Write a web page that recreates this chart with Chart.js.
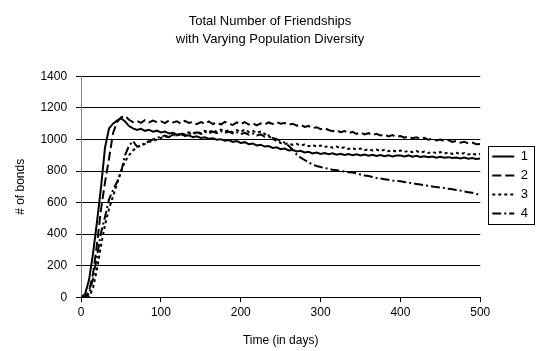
<!DOCTYPE html>
<html>
<head>
<meta charset="utf-8">
<script src="https://cdn.jsdelivr.net/npm/chart.js@4.4.1/dist/chart.umd.min.js"></script>
<style>
  html, body { margin: 0; padding: 0; background: #fff; }
  #wrap { width: 536px; height: 351px; }
</style>
</head>
<body>
<div id="wrap"><canvas id="myChart" width="536" height="351"></canvas></div>
<script>
// time axis (days), sampled every 5 days
const days = [
  0, 5, 10, 15, 20, 25, 30, 35, 40, 45,
  50, 55, 60, 65, 70, 75, 80, 85, 90, 95,
  100, 105, 110, 115, 120, 125, 130, 135, 140, 145,
  150, 155, 160, 165, 170, 175, 180, 185, 190, 195,
  200, 205, 210, 215, 220, 225, 230, 235, 240, 245,
  250, 255, 260, 265, 270, 275, 280, 285, 290, 295,
  300, 305, 310, 315, 320, 325, 330, 335, 340, 345,
  350, 355, 360, 365, 370, 375, 380, 385, 390, 395,
  400, 405, 410, 415, 420, 425, 430, 435, 440, 445,
  450, 455, 460, 465, 470, 475, 480, 485, 490, 495,
  500
];

const seriesNames = ['1', '2', '3', '4'];

const bonds1 = [
  0, 20, 110, 280, 480, 700, 950, 1070, 1100, 1120,
  1135, 1115, 1085, 1070, 1060, 1068, 1055, 1062, 1050, 1056,
  1045, 1050, 1038, 1042, 1030, 1035, 1022, 1026, 1015, 1020,
  1010, 1014, 1004, 1008, 998, 1002, 992, 996, 985, 990,
  978, 983, 970, 975, 962, 967, 955, 958, 946, 950,
  938, 942, 930, 934, 924, 928, 918, 922, 912, 917,
  908, 914, 906, 912, 904, 910, 902, 908, 900, 906,
  898, 905, 897, 903, 896, 902, 894, 900, 893, 899,
  898, 892, 899, 891, 896, 889, 894, 887, 892, 885,
  890, 884, 888, 882, 886, 880, 885, 878, 883, 877,
  880
];

const bonds2 = [
  0, 2, 40, 150, 340, 560, 730, 880, 1040, 1110,
  1140, 1150, 1125, 1110, 1118, 1105, 1122, 1108, 1120, 1110,
  1116, 1104, 1120, 1108, 1115, 1100, 1118, 1105, 1112, 1098,
  1110, 1100, 1114, 1098, 1108, 1095, 1112, 1100, 1092, 1108,
  1098, 1110, 1095, 1104, 1090, 1102, 1096, 1108, 1098, 1110,
  1100, 1105, 1094, 1100, 1088, 1094, 1080, 1086, 1072, 1078,
  1065, 1072, 1060, 1052, 1060, 1046, 1054, 1040, 1048, 1036,
  1044, 1032, 1040, 1028, 1036, 1025, 1032, 1020, 1028, 1016,
  1022, 1012, 1018, 1008, 1014, 1003, 1010, 998, 1005, 994,
  1000, 990, 996, 985, 991, 980, 986, 975, 980, 970,
  972
];

const bonds3 = [
  0, 0, 0, 60, 180, 330, 460, 560, 640, 720,
  800, 860, 900, 930, 950, 962, 972, 985, 990, 1000,
  1010, 1020, 1015, 1030, 1025, 1040, 1032, 1045, 1038, 1050,
  1040, 1055, 1045, 1060, 1048, 1062, 1050, 1058, 1045, 1060,
  1050, 1062, 1048, 1055, 1042, 1050, 1035, 1020, 1005, 990,
  978, 972, 976, 966, 972, 962, 968, 958, 965, 955,
  962, 952, 958, 948, 955, 944, 950, 940, 946, 936,
  942, 932, 938, 930, 936, 927, 934, 925, 932, 923,
  930, 921, 928, 919, 926, 917, 924, 915, 922, 913,
  920, 911, 918, 909, 916, 907, 914, 905, 912, 903,
  908
];

const bonds4 = [
  0, 0, 20, 120, 260, 410, 510, 620, 680, 730,
  790, 900, 960, 990, 955, 965, 975, 990, 1000, 1010,
  1018, 1025, 1015, 1030, 1022, 1035, 1028, 1040, 1032, 1045,
  1035, 1048, 1038, 1050, 1040, 1052, 1042, 1050, 1038, 1046,
  1035, 1042, 1030, 1038, 1025, 1032, 1018, 1026, 1010, 1002,
  990, 980, 960, 935, 905, 885, 870, 855, 840, 832,
  825, 818, 815, 808, 805, 800, 796, 792, 790, 785,
  778, 772, 768, 762, 756, 752, 748, 744, 740, 737,
  735, 730, 726, 722, 718, 714, 710, 706, 702, 698,
  695, 692, 688, 684, 680, 676, 670, 666, 662, 655,
  648
];

const yTicks = [0, 200, 400, 600, 800, 1000, 1200, 1400];
const xTicks = [0, 100, 200, 300, 400, 500];

const FONT = "'Liberation Sans', Arial, sans-serif";

function pts(vals) {
  return days.map((d, i) => ({ x: d, y: vals[i] }));
}

const dashes = [[], [9, 4], [3, 3], [9, 3, 2, 3]];
const allSeries = [bonds1, bonds2, bonds3, bonds4];

// nudge the legend a little (hit boxes follow in the legend's afterUpdate), then frame it
const legendBox = {
  id: 'legendBox',
  afterLayout(chart) {
    const l = chart.legend;
    l.top += 9; l.bottom += 9;
    l.left += 6; l.right += 6;
  },
  afterDraw(chart) {
    const boxes = chart.legend.legendHitBoxes;
    if (!boxes || !boxes.length) return;
    const top = Math.min(...boxes.map(b => b.top)) - 4;
    const bottom = Math.max(...boxes.map(b => b.top + b.height)) + 4;
    const left = Math.min(...boxes.map(b => b.left)) - 4;
    const right = chart.width - 2;
    const c = chart.ctx;
    c.save();
    c.strokeStyle = '#000';
    c.lineWidth = 1;
    c.setLineDash([]);
    c.strokeRect(Math.round(left) + 0.5, Math.round(top) + 0.5, Math.round(right - left), Math.round(bottom - top));
    c.restore();
  }
};

const ctx = document.getElementById('myChart');

chart = new Chart(ctx, {
  type: 'line',
  data: {
    datasets: seriesNames.map((name, i) => ({
      label: name,
      data: pts(allSeries[i]),
      borderColor: '#000',
      backgroundColor: '#000',
      borderWidth: 2,
      borderDash: dashes[i],
      pointRadius: 0,
      tension: 0
    }))
  },
  options: {
    responsive: false,
    animation: false,
    layout: { padding: { left: 8, right: 4, top: 4, bottom: 3 } },
    plugins: {
      title: {
        display: true,
        text: ['Total Number of Friendships', 'with Varying Population Diversity'],
        color: '#000',
        font: { family: FONT, size: 13, weight: 'normal', lineHeight: 1.4 },
        padding: { top: 8, bottom: 28 }
      },
      legend: {
        position: 'right',
        labels: {
          color: '#000',
          font: { family: FONT, size: 13 },
          usePointStyle: true,
          pointStyle: 'line',
          pointStyleWidth: 22,
          boxHeight: 6,
          padding: 6,
          generateLabels: (c) => Chart.defaults.plugins.legend.labels.generateLabels(c).map((item, i) => ({
            ...item,
            lineDash: dashes[i],
            lineWidth: 2,
            strokeStyle: '#000'
          }))
        }
      },
      tooltip: { enabled: false }
    },
    scales: {
      x: {
        type: 'linear',
        min: 0,
        max: 500,
        afterBuildTicks: (axis) => { axis.ticks = xTicks.map(v => ({ value: v })); },
        ticks: { color: '#000', font: { family: FONT, size: 12 }, padding: 3, maxRotation: 0, callback: (v) => String(v) },
        grid: { drawOnChartArea: false, drawTicks: true, tickLength: 5, color: '#000' },
        border: { color: '#000', width: 1 },
        title: { display: true, text: 'Time (in days)', color: '#000', font: { family: FONT, size: 12 }, padding: { top: 11, bottom: 0 } }
      },
      y: {
        min: 0,
        max: 1400,
        afterBuildTicks: (axis) => { axis.ticks = yTicks.map(v => ({ value: v })); },
        ticks: { color: '#000', font: { family: FONT, size: 12 }, padding: 9, callback: (v) => String(v) },
        grid: { color: '#000', lineWidth: 1, tickLength: 5, drawTicks: true },
        border: { color: '#808080', width: 1 },
        title: { display: true, text: '# of bonds', color: '#000', font: { family: FONT, size: 12 }, padding: { top: 5, bottom: 4 } }
      }
    }
  },
  plugins: [legendBox]
});
</script>
</body>
</html>
